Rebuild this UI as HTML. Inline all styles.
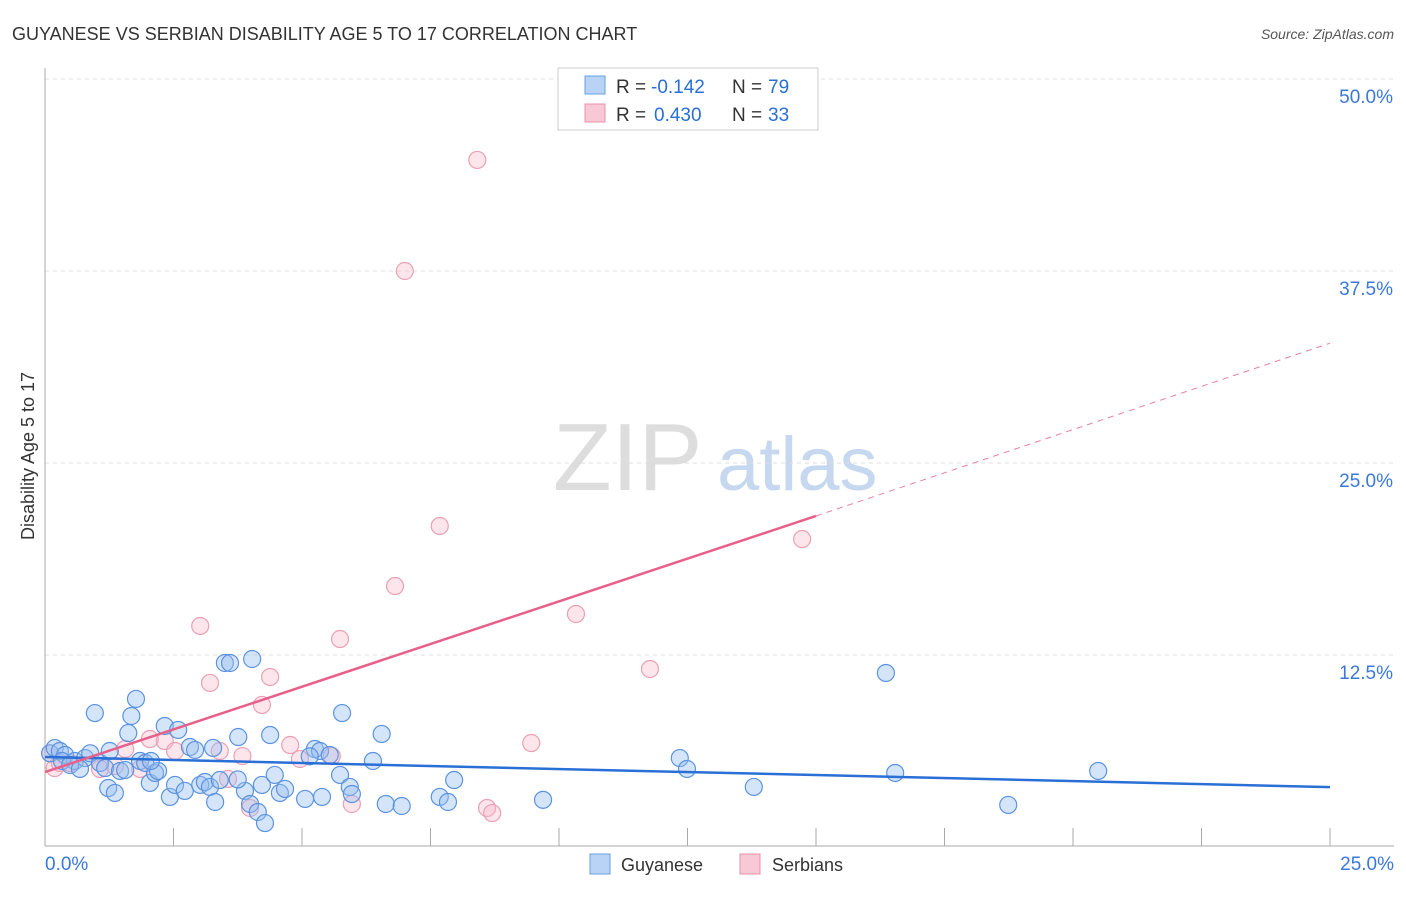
<!DOCTYPE html>
<html><head><meta charset="utf-8"><style>
body{margin:0;background:#fff;font-family:"Liberation Sans",sans-serif}
svg text{font-family:"Liberation Sans",sans-serif}
</style></head><body>
<svg id="c" width="1406" height="892">
<text x="12" y="40" font-size="18" fill="#333">GUYANESE VS SERBIAN DISABILITY AGE 5 TO 17 CORRELATION CHART</text>
<text x="1394" y="39" font-size="14" fill="#555" font-style="italic" text-anchor="end">Source: ZipAtlas.com</text>
<text x="0" y="0" transform="translate(34,456) rotate(-90)" font-size="18" fill="#333" text-anchor="middle">Disability Age 5 to 17</text>
<g><text x="553" y="490" font-size="96" font-family="Liberation Serif" fill="#ddd">ZIP</text><text x="717" y="490" font-size="76" fill="#c5d8ef">atlas</text></g>
<g id="grid"></g><g id="marks"></g>
<g>
<rect x="558" y="68" width="260" height="62" fill="#fff" stroke="#ccc"/>
<rect x="585" y="76" width="20" height="18" fill="#b8d3f5" stroke="#6a9fe0"/>
<rect x="585" y="104" width="20" height="18" fill="#f9c8d6" stroke="#e890aa"/>
<text x="616" y="93" font-size="19" fill="#333">R =</text><text x="651" y="93" font-size="19" fill="#2a6fd6">-0.142</text>
<text x="732" y="93" font-size="19" fill="#333">N =</text><text x="768" y="93" font-size="19" fill="#2a6fd6">79</text>
<text x="616" y="121" font-size="19" fill="#333">R =</text><text x="654" y="121" font-size="19" fill="#2a6fd6">0.430</text>
<text x="732" y="121" font-size="19" fill="#333">N =</text><text x="768" y="121" font-size="19" fill="#2a6fd6">33</text>
</g>
<g>
<rect x="590" y="854" width="20" height="20" fill="#b8d3f5" stroke="#6a9fe0"/>
<text x="621" y="871" font-size="18" fill="#333">Guyanese</text>
<rect x="740" y="854" width="20" height="20" fill="#f9c8d6" stroke="#e890aa"/>
<text x="772" y="871" font-size="18" fill="#333">Serbians</text>
</g>
</svg>
<script>
const yTicks=[12.5,25,37.5,50];
const yTickLabels=["12.5%","25.0%","37.5%","50.0%"];
const xTickLabels=["0.0%","25.0%"];
const guyX=[0.1,0.19,0.29,0.39,0.58,0.78,0.88,0.97,1.07,1.17,1.26,1.23,1.36,1.46,1.56,1.62,1.68,1.77,1.85,1.95,2.04,2.14,2.2,2.33,2.43,2.53,2.59,2.72,2.82,2.92,3.02,3.11,3.21,3.27,3.31,3.4,3.5,3.6,3.76,3.89,3.99,4.03,4.14,4.22,4.28,4.38,4.47,4.57,4.67,5.06,5.25,5.35,5.39,5.54,5.74,5.78,5.93,5.97,6.38,6.55,6.63,6.94,7.68,7.84,7.96,9.69,12.35,12.49,13.79,16.36,16.54,18.74,20.49,0.33,0.49,0.68,2.06,3.75,5.15];
const guyY=[6.1,6.44,6.25,5.99,5.6,5.79,6.1,8.72,5.47,5.14,6.25,3.84,3.52,4.95,5.01,7.42,8.53,9.64,5.6,5.47,4.17,4.82,4.95,7.88,3.26,4.04,7.62,3.65,6.51,6.32,4.04,4.23,3.91,6.45,2.93,4.36,11.98,11.98,7.16,3.65,2.8,12.24,2.28,4.04,1.56,7.29,4.69,3.52,3.78,3.13,6.38,6.25,3.26,5.99,4.69,8.72,3.91,3.45,5.6,7.36,2.8,2.67,3.26,2.93,4.36,3.07,5.79,5.08,3.91,11.33,4.82,2.74,4.95,5.6,5.34,5.08,5.6,4.4,5.9];
const serX=[0.1,0.19,0.29,0.49,1.07,1.36,1.56,1.85,2.04,2.33,2.53,3.02,3.21,3.4,3.56,3.84,3.99,4.22,4.38,4.77,4.96,5.58,5.74,5.97,6.81,7.0,7.68,8.41,8.6,8.7,9.46,10.33,11.77,14.73];
const serY=[6.1,5.14,5.47,5.47,5.08,5.27,6.38,5.08,7.03,6.9,6.25,14.39,10.68,6.25,4.43,5.92,2.54,9.25,11.07,6.64,5.73,5.92,13.54,2.8,16.99,37.5,20.9,44.73,2.54,2.21,6.77,15.17,11.59,20.05];
const x=v=>45+v/25*1285, y=v=>847-v/50*768;
const NS="http://www.w3.org/2000/svg";
function mk(t,a,p){const e=document.createElementNS(NS,t);for(const k in a)e.setAttribute(k,a[k]);p.appendChild(e);return e;}
const g=document.getElementById('grid'), m=document.getElementById('marks');
yTicks.forEach((t,i)=>{
 const l=mk('line',{x1:45,x2:1394,y1:y(t),y2:y(t),stroke:'#ddd','stroke-dasharray':'4,4'},g);
 
 
 const tx=mk('text',{x:1393,y:y(t)+24,'font-size':19,fill:'#3a78d8','text-anchor':'end'},g);tx.textContent=yTickLabels[i];
 
 
});
mk('line',{x1:45,x2:45,y1:68,y2:846,stroke:'#aaa'},g);
mk('line',{x1:45,x2:1394,y1:846,y2:846,stroke:'#aaa'},g);
for(let i=1;i<=10;i++){const l=mk('line',{x1:x(i*2.5),x2:x(i*2.5),y1:828,y2:846,stroke:'#aaa'},g);
 
 }
[[0,'start',45],[25,'end',1394]].forEach((d,i)=>{const t=mk('text',{x:d[2],y:870,'font-size':19,fill:'#3a78d8','text-anchor':d[1]},g);t.textContent=xTickLabels[i];
 
 });
serX.forEach((v,i)=>{const c=mk('circle',{cx:x(v),cy:y(serY[i]),r:8.5,fill:'rgba(248,180,200,0.35)',stroke:'#eaa0b5','stroke-width':1.2},m);
 
 });
guyX.forEach((v,i)=>{const c=mk('circle',{cx:x(v),cy:y(guyY[i]),r:8.5,fill:'rgba(150,190,240,0.4)',stroke:'#5b93e0','stroke-width':1.2},m);
 
 });
let l=mk('line',{x1:x(0),y1:y(5.86),x2:x(25),y2:y(3.9),stroke:'#2a6fd6','stroke-width':2.5},m);


l=mk('line',{x1:x(0),y1:y(4.88),x2:x(15),y2:y(21.55),stroke:'#e8608a','stroke-width':2.5},m);


l=mk('line',{x1:x(15),y1:y(21.55),x2:x(25),y2:y(32.8),stroke:'#e8809f','stroke-width':1,'stroke-dasharray':'6,5'},m);


</script>
</body></html>
